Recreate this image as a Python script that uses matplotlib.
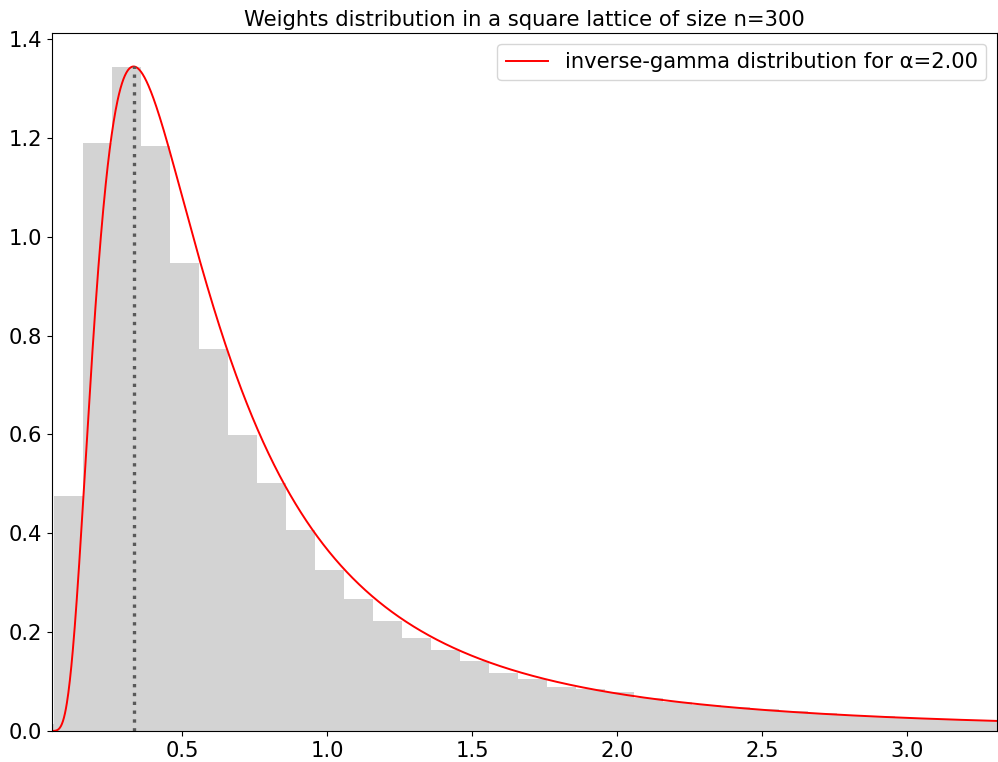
import math
import numpy as np
import matplotlib
matplotlib.use("Agg")
import matplotlib.pyplot as plt

# histogram (density), bins of width 0.1
bin_left = [-0.04, 0.06, 0.16, 0.26, 0.36, 0.46, 0.56, 0.66, 0.76, 0.86,
            0.96, 1.06, 1.16, 1.26, 1.36, 1.46, 1.56, 1.66, 1.76, 1.86,
            1.96, 2.06, 2.16, 2.26, 2.36, 2.46, 2.56, 2.66, 2.76, 2.86,
            2.96, 3.06, 3.16, 3.26]
density = [0.014, 0.476, 1.190, 1.344, 1.184, 0.947, 0.773, 0.599, 0.501, 0.407,
           0.325, 0.267, 0.223, 0.189, 0.164, 0.142, 0.118, 0.105, 0.090, 0.084,
           0.078, 0.066, 0.059, 0.052, 0.049, 0.044, 0.040, 0.036, 0.033, 0.030,
           0.027, 0.025, 0.023, 0.021]
bin_width = 0.1

# fitted inverse-gamma parameters
alpha = 2.0
beta = 1.0

fig = plt.figure(figsize=(9.98, 7.62), dpi=100)
ax = fig.add_subplot(111)
fig.subplots_adjust(left=52/998, right=997/998, bottom=1-731/762, top=1-33/762)

ax.bar(bin_left, density, width=bin_width, align="edge", color="lightgray", linewidth=0)

x = np.linspace(0.01, 3.4, 2000)
pdf = beta**alpha / math.gamma(alpha) * x**(-alpha - 1) * np.exp(-beta / x)
ax.plot(x, pdf, color="red", lw=1.4, label="inverse-gamma distribution for \u03b1=%.2f" % alpha)

mode = beta / (alpha + 1)
peak = beta**alpha / math.gamma(alpha) * mode**(-alpha - 1) * math.exp(-beta / mode)
ax.plot([mode, mode], [0, peak], color="0.35", ls=":", lw=2.4)

ax.set_xlim(0.052, 3.31)
ax.set_ylim(0, 1.412)
ax.set_xticks([0.5, 1.0, 1.5, 2.0, 2.5, 3.0])
ax.set_yticks([0.0, 0.2, 0.4, 0.6, 0.8, 1.0, 1.2, 1.4])
ax.tick_params(labelsize=15.2)
ax.set_title("Weights distribution in a square lattice of size n=300", fontsize=15.2, pad=5)
ax.legend(loc="upper right", fontsize=15.2)

fig.savefig("out.png", dpi=100)
